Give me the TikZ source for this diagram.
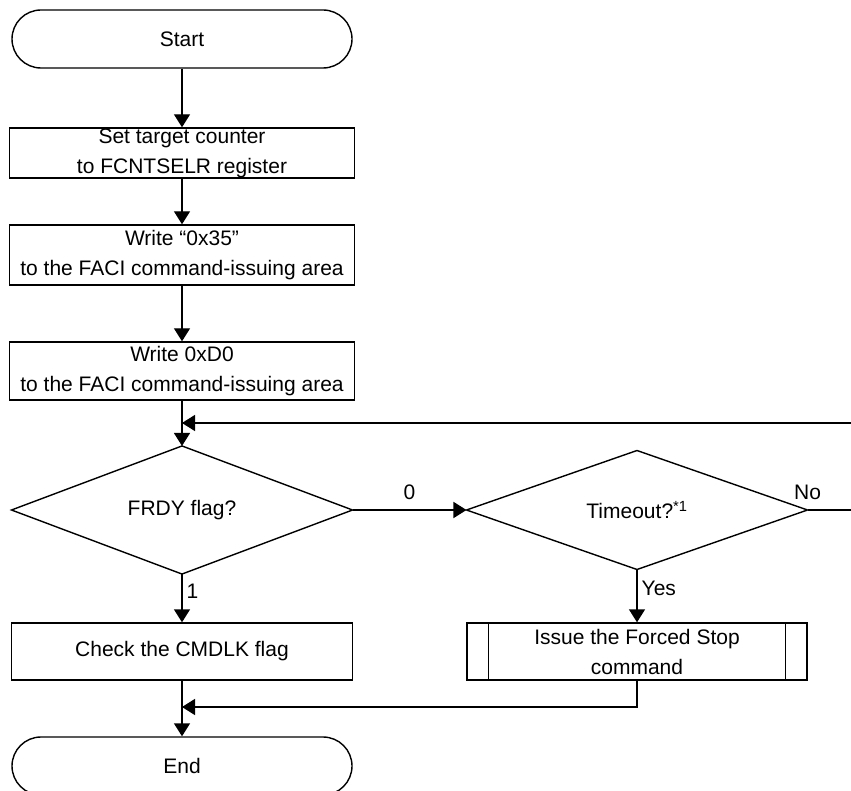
\documentclass[tikz,border=0pt]{standalone}
\usepackage{fontspec}
\setmainfont{Liberation Sans}
\usetikzlibrary{arrows.meta, shapes.geometric}

\begin{document}
\begin{tikzpicture}[x=1pt, y=-1pt, >={Triangle[length=13pt, width=16pt]}, line width=1.4pt,
    font=\fontsize{21}{30}\selectfont,
    term/.style={draw, rectangle, rounded corners=29pt, minimum width=340pt, minimum height=58pt, inner sep=0pt},
    proc/.style={draw, rectangle, align=center, minimum width=345pt, inner sep=0pt},
    decide/.style={draw, diamond, minimum width=341pt, minimum height=114pt, inner sep=0pt, outer sep=0pt},
    subproc/.style={draw, rectangle, align=center, minimum width=340pt, minimum height=57pt, inner sep=0pt},
    lbl/.style={inner sep=4pt}]
    \useasboundingbox (0,0) rectangle (851,791);

    % main column
    \node[term] (start) at (182,39) {Start};
    \node[proc, minimum height=50pt] (cnt) at (182,153) {Set target counter\\to FCNTSELR register};
    \node[proc, minimum height=60pt] (w35) at (182,255) {Write “0x35”\\to the FACI command-issuing area};
    \node[proc, minimum height=58pt] (wd0) at (182,371) {Write 0xD0\\to the FACI command-issuing area};
    \coordinate (merge1) at (182,423);
    \node[decide] (frdy) at (182,510) {FRDY flag?};
    \node[proc, minimum width=341pt, minimum height=57pt] (cmd) at (182,651.5) {Check the CMDLK flag};
    \coordinate (merge2) at (182,707);
    \node[term] (endt) at (182,766) {End};

    % timeout branch
    \node[decide] (tmo) at (637,510) {Timeout?\textsuperscript{*1}};
    \node[subproc] (stop) at (637,651.5) {Issue the Forced Stop\\command};
    \draw ([xshift=22pt]stop.north west) -- ([xshift=22pt]stop.south west);
    \draw ([xshift=-22pt]stop.north east) -- ([xshift=-22pt]stop.south east);
    \coordinate (loopR) at (862,510);
    \coordinate (loopT) at (862,423);

    \draw[->] (start) -- (cnt);
    \draw[->] (cnt) -- (w35);
    \draw[->] (w35) -- (wd0);
    \draw[->] (wd0) -- (frdy);
    \draw[->] (frdy) -- node[lbl, above=6pt] {0} (tmo);
    \draw[->] (tmo.east) node[lbl, above=6pt] {No} -- (loopR) -- (loopT) -- (merge1);
    \draw[->] (frdy) -- node[lbl, right, pos=0.35] {1} (cmd);
    \draw[->] (tmo) -- node[lbl, right, pos=0.35] {Yes} (stop);
    \draw[->] (cmd) -- (endt);
    \draw[->] (stop.south) |- (merge2);
\end{tikzpicture}
\end{document}
